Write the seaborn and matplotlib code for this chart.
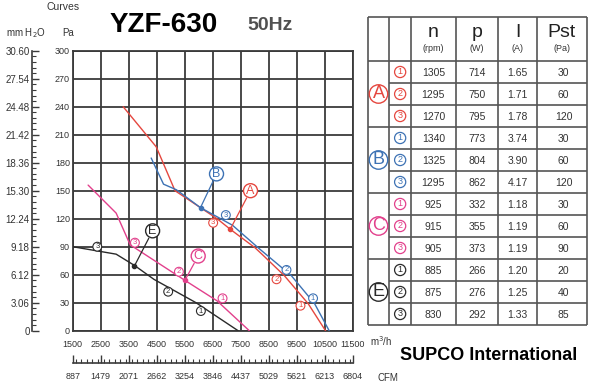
import matplotlib
matplotlib.use("Agg")
import matplotlib.pyplot as plt
import matplotlib.ticker as mticker
import pandas as pd
import seaborn as sns

# ---------------- data ----------------
fans = ["A", "B", "C", "E"]
fan_colors = ["#e5473f", "#3d72b4", "#e2408c", "#2a2a2a"]

a_flow = [3300, 4480, 5150, 6650, 7150, 8000, 8250, 9050, 9900, 10520]
a_pst = [240, 197, 150, 120, 108, 89, 82, 59, 29, 0]
b_flow = [4300, 4740, 5200, 6050, 7200, 8150, 9300, 10130, 10650]
b_pst = [185, 157, 151, 132, 113, 88, 59, 29, 0]
c_flow = [2050, 3050, 3550, 5500, 6650, 7800]
c_pst = [156, 126, 92, 54, 32, 0]
e_flow = [1500, 3050, 3700, 4400, 5900, 7400]
e_pst = [90, 82, 70, 55, 30, 0]

# circled operating-point numbers on the curves
step_fan = ["A", "A", "A", "B", "B", "B", "C", "C", "C", "E", "E", "E"]
step_num = ["1", "2", "3", "1", "2", "3", "1", "2", "3", "1", "2", "3"]
step_x = [9626, 8771, 6511, 10075, 9127, 6964, 6846, 5289, 3720, 6073, 4907, 2377]
step_y = [26.8, 55.1, 115.6, 34.7, 65.1, 123.9, 34.7, 63.2, 94.3, 21.1, 41.8, 90.0]

# curve name tags and the points they point to
tag_x = [7843, 6631, 5977, 4351]
tag_y = [150, 168, 80, 107]
ptr_x = [7125, 6061, 5502, 3696]
ptr_y = [109, 132, 54, 69]

# axes
flow_ticks = [1500, 2500, 3500, 4500, 5500, 6500, 7500, 8500, 9500, 10500, 11500]
cfm_labels = ["887", "1479", "2071", "2662", "3254", "3846", "4437", "5029",
              "5621", "6213", "6804"]
pa_ticks = [0, 30, 60, 90, 120, 150, 180, 210, 240, 270, 300]
mm_ticks = [0, 3.06, 6.12, 9.18, 12.24, 15.30, 18.36, 21.42, 24.48, 27.54, 30.60]
mm_labels = ["0", "3.06", "6.12", "9.18", "12.24", "15.30", "18.36", "21.42",
             "24.48", "27.54", "30.60"]

# table
tab_fan = ["A", "A", "A", "B", "B", "B", "C", "C", "C", "E", "E", "E"]
tab_step = ["1", "2", "3", "1", "2", "3", "1", "2", "3", "1", "2", "3"]
tab_n = ["1305", "1295", "1270", "1340", "1325", "1295", "925", "915", "905",
         "885", "875", "830"]
tab_p = ["714", "750", "795", "773", "804", "862", "332", "355", "373",
         "266", "276", "292"]
tab_i = ["1.65", "1.71", "1.78", "3.74", "3.90", "4.17", "1.18", "1.19", "1.19",
         "1.20", "1.25", "1.33"]
tab_pst = ["30", "60", "120", "30", "60", "120", "30", "60", "90", "20", "40", "85"]
head_main = ["n", "p", "I", "Pst"]
head_unit = ["(rpm)", "(W)", "(A)", "(Pa)"]

# ---------------- figure ----------------
sns.set_theme(style="white")
plt.rcParams["font.family"] = ["Liberation Sans", "DejaVu Sans"]
W, H = 590, 384
fig = plt.figure(figsize=(W / 100, H / 100), dpi=100)
fig.patch.set_facecolor("white")


def frect(x0, y0, x1, y1):
    return [x0 / W, 1 - y1 / H, (x1 - x0) / W, (y1 - y0) / H]


color_of = dict(zip(fans, fan_colors))
GRID = "#3a3a3a"
TXT = "#333333"

ax = fig.add_axes(frect(72.7, 50.7, 353, 330.7))
df = pd.concat([
    pd.DataFrame({"flow": a_flow, "pst": a_pst, "fan": "A"}),
    pd.DataFrame({"flow": b_flow, "pst": b_pst, "fan": "B"}),
    pd.DataFrame({"flow": c_flow, "pst": c_pst, "fan": "C"}),
    pd.DataFrame({"flow": e_flow, "pst": e_pst, "fan": "E"}),
], ignore_index=True)
sns.lineplot(data=df, x="flow", y="pst", hue="fan", palette=color_of,
             estimator=None, sort=False, legend=False, lw=1.0, ax=ax, zorder=3)

ax.set_xlim(1500, 11500)
ax.set_ylim(0, 300)
ax.set_xticks(flow_ticks)
ax.set_yticks(pa_ticks)
ax.set_xlabel("")
ax.set_ylabel("")
ax.grid(True, color=GRID, lw=1.3)
ax.set_axisbelow(True)
for s in ax.spines.values():
    s.set_color(GRID)
    s.set_linewidth(1.3)
ax.xaxis.set_minor_locator(mticker.MultipleLocator(200))
ax.yaxis.set_minor_locator(mticker.MultipleLocator(6))
ax.tick_params(which="both", direction="in", top=False, right=False,
               color=GRID, labelcolor=TXT, labelsize=6.5)
ax.tick_params(which="major", length=5, width=1)
ax.tick_params(which="minor", length=3, width=0.8)
ax.tick_params(axis="x", pad=7)
ax.tick_params(axis="y", pad=2)

# CFM axis
sec = ax.secondary_xaxis(-0.114)
sec.set_xticks(flow_ticks, labels=cfm_labels)
sec.xaxis.set_minor_locator(mticker.MultipleLocator(200))
sec.tick_params(which="both", direction="in", color=GRID, labelcolor=TXT,
                labelsize=6.5, pad=7)
sec.tick_params(which="major", length=6, width=1)
sec.tick_params(which="minor", length=3, width=0.8)
sec.spines["bottom"].set_color(GRID)
sec.spines["bottom"].set_linewidth(1.2)

# mm H2O axis
sy = ax.secondary_yaxis(-0.144, functions=(lambda p: p * 0.102, lambda m: m / 0.102))
sy.set_yticks(mm_ticks, labels=mm_labels)
sy.yaxis.set_minor_locator(mticker.MultipleLocator(0.612))
sy.tick_params(which="both", direction="in", color=GRID, labelcolor=TXT,
               labelsize=7, pad=2)
sy.tick_params(which="major", length=5, width=1)
sy.tick_params(which="minor", length=3, width=0.8)
sy.spines["left"].set_color(GRID)
sy.spines["left"].set_linewidth(1.2)

# step numbers
for f, t, x, y in zip(step_fan, step_num, step_x, step_y):
    c = color_of[f]
    ax.text(x, y, t, color=c, fontsize=5.5, ha="center", va="center", zorder=5,
            bbox=dict(boxstyle="circle,pad=0.12", fc="white", ec=c, lw=0.8))

# name tags with pointers
for f, tx, ty, px, py in zip(fans, tag_x, tag_y, ptr_x, ptr_y):
    c = color_of[f]
    ax.annotate("", xy=(px, py), xytext=(tx, ty), zorder=4,
                arrowprops=dict(arrowstyle="-", color=c, lw=0.9, shrinkA=6, shrinkB=0))
    ax.plot([px], [py], marker="o", ms=3, color=c, zorder=6)
    ax.text(tx, ty, f, color=c, fontsize=9, ha="center", va="center", zorder=6,
            bbox=dict(boxstyle="circle,pad=0.08", fc="white", ec=c, lw=1.0))

# ---------------- figure texts ----------------
fig.text(47 / W, 1 - 7 / H, "Curves", fontsize=7.5, color=TXT, va="center")
fig.text(6 / W, 1 - 33 / H, "mm H$_2$O", fontsize=7, color=TXT, va="center")
fig.text(62 / W, 1 - 33 / H, "Pa", fontsize=7, color=TXT, va="center")
fig.text(110 / W, 1 - 25 / H, "YZF-630", fontsize=20, weight="bold",
         color="black", va="center")
fig.text(247 / W, 1 - 26 / H, "50Hz", fontsize=14, weight="bold",
         color="#505050", va="center")
fig.text(370 / W, 1 - 341 / H, "m$^3$/h", fontsize=7, color=TXT, va="center")
fig.text(377 / W, 1 - 378 / H, "CFM", fontsize=7, color=TXT, va="center")
fig.text(400 / W, 1 - 356 / H, "SUPCO International", fontsize=13,
         weight="bold", color="black", va="center")

# ---------------- table ----------------
X0, X1, Y0, Y1 = 367.7, 586.7, 17.3, 325.0
tab = fig.add_axes(frect(X0 - 1, Y0 - 1, X1 + 1, Y1 + 1))
tab.set_xlim(X0 - 1, X1 + 1)
tab.set_ylim(Y1 + 1, Y0 - 1)
tab.axis("off")
LC = "#555555"
cols = [367.7, 389.3, 411.0, 455.7, 498.3, 536.7, 586.7]
head_bot = 61.0
row_h = 22.0
tab.vlines(cols, Y0, Y1, color=LC, lw=1.2)
tab.hlines([Y0, head_bot], X0, X1, color=LC, lw=1.2)
for r in range(1, 13):
    y = head_bot + r * row_h
    x_start = X0 if r % 3 == 0 else cols[1]
    tab.hlines(y, x_start, X1, color=LC, lw=1.2)

centers = [(cols[i] + cols[i + 1]) / 2 for i in range(len(cols) - 1)]
for j, (m, u) in enumerate(zip(head_main, head_unit)):
    cx = centers[j + 2]
    tab.text(cx, 33, m, fontsize=14, ha="center", va="center", color="#222")
    tab.text(cx, 48.5, u, fontsize=6.5, ha="center", va="center", color=TXT)

for r in range(12):
    cy = head_bot + (r + 0.5) * row_h
    c = color_of[tab_fan[r]]
    tab.text(centers[1], cy, tab_step[r], fontsize=6.5, color=c, ha="center",
             va="center", bbox=dict(boxstyle="circle,pad=0.12", fc="white", ec=c, lw=0.9))
    for j, v in enumerate([tab_n[r], tab_p[r], tab_i[r], tab_pst[r]]):
        tab.text(centers[j + 2] + (2 if j == 3 else 0), cy + 1, v, fontsize=7.5,
                 ha="center", va="center", color=TXT)
for g, f in enumerate(fans):
    cy = head_bot + (g * 3 + 1.5) * row_h
    c = color_of[f]
    tab.text(centers[0], cy, f, fontsize=13, color=c, ha="center", va="center",
             bbox=dict(boxstyle="circle,pad=0.04", fc="white", ec=c, lw=1.0))

fig.savefig("out.png", dpi=100, facecolor="white")
